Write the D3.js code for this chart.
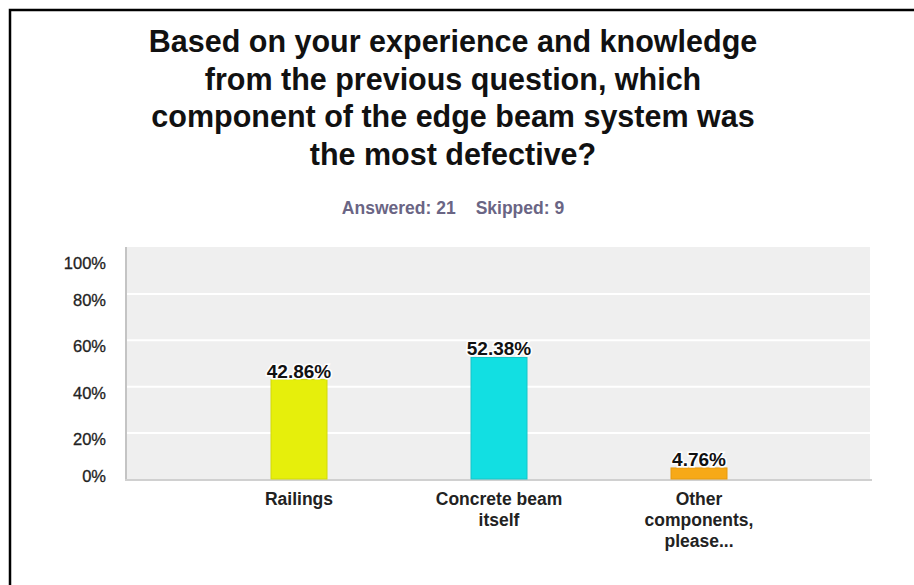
<!DOCTYPE html>
<html>
<head>
<meta charset="utf-8">
<script src="https://cdn.jsdelivr.net/npm/d3@7"></script>
<style>
  html, body { margin: 0; padding: 0; background: #fff; }
  svg { display: block; font-family: Arial, "Liberation Sans", sans-serif; }
</style>
</head>
<body>
<svg id="chart" width="914" height="585"></svg>
<script>
// Survey question results
const titleLines = [
  "Based on your experience and knowledge",
  "from the previous question, which",
  "component of the edge beam system was",
  "the most defective?"
];
const answeredLabel = "Answered: 21";
const skippedLabel = "Skipped: 9";
const categories = ["Railings", "Concrete beam itself", "Other components, please..."];
const categoryLines = [["Railings"], ["Concrete beam", "itself"], ["Other", "components,", "please..."]];
const values = [42.86, 52.38, 4.76];
const barColors = ["#e6ef0b", "#12dfe2", "#f7a917"];
const barStrokes = ["#d2da08", "#17c4c8", "#e59a10"];
const yTicks = [0, 20, 40, 60, 80, 100];

const svg = d3.select("#chart");

// outer frame
svg.append("rect")
  .attr("x", 10).attr("y", 10)
  .attr("width", 1000).attr("height", 1000)
  .attr("fill", "none").attr("stroke", "#000").attr("stroke-width", 2.5);

// title
svg.append("g").selectAll("text")
  .data(titleLines)
  .join("text")
  .attr("x", 453)
  .attr("y", (d, i) => 52 + i * 37.5)
  .attr("text-anchor", "middle")
  .attr("font-size", "30.5px")
  .attr("font-weight", "bold")
  .attr("fill", "#111")
  .text(d => d);

// response counts
const counts = svg.append("text")
  .attr("x", 453).attr("y", 214)
  .attr("text-anchor", "middle")
  .attr("font-size", "17.5px")
  .attr("font-weight", "bold")
  .attr("fill", "#6a6584");
counts.append("tspan").text(answeredLabel);
counts.append("tspan").attr("dx", 20).text(skippedLabel);

// plot area
const plot = { left: 126, right: 870, top: 247, bottom: 479 };

const y = d3.scaleLinear().domain([0, 100]).range([plot.bottom, plot.top]);
const x = d3.scaleBand()
  .domain(categories)
  .range([199, 799])
  .paddingInner(0.72)
  .paddingOuter(0.36);

svg.append("rect")
  .attr("x", plot.left).attr("y", plot.top)
  .attr("width", plot.right - plot.left).attr("height", plot.bottom - plot.top)
  .attr("fill", "#efefef");

// horizontal gridlines
svg.append("g")
  .attr("transform", `translate(${plot.left},0)`)
  .call(d3.axisLeft(y).tickValues(yTicks.filter(v => v > 0 && v < 100))
    .tickSize(-(plot.right - plot.left)).tickFormat(""))
  .call(g => g.select(".domain").remove())
  .call(g => g.selectAll(".tick line").attr("stroke", "#fff").attr("stroke-width", 2));

// left axis line
svg.append("line")
  .attr("x1", plot.left).attr("x2", plot.left)
  .attr("y1", plot.top).attr("y2", plot.bottom)
  .attr("stroke", "#c4c4c4").attr("stroke-width", 2);

// bottom axis line
svg.append("line")
  .attr("x1", plot.left - 1).attr("x2", plot.right + 2)
  .attr("y1", plot.bottom + 1).attr("y2", plot.bottom + 1)
  .attr("stroke", "#d0d0d0").attr("stroke-width", 2);

// y tick labels (kept inside the plot's vertical extent)
const yAxis = svg.append("g")
  .attr("transform", "translate(106,0)")
  .call(d3.axisLeft(y).tickValues(yTicks).tickSize(0).tickPadding(0).tickFormat(d => d + "%"));
yAxis.select(".domain").remove();
yAxis.selectAll(".tick text")
  .attr("x", 0)
  .attr("dy", null)
  .attr("font-size", "16.5px")
  .attr("font-family", "Arial, 'Liberation Sans', sans-serif")
  .attr("fill", "#222")
  .attr("stroke", "#222")
  .attr("stroke-width", 0.3)
  .attr("transform", d => {
    const base = Math.min(Math.max(y(d) + 12, plot.top + 21), plot.bottom + 2);
    return `translate(0,${base - y(d)})`;
  });

// bars
svg.append("g").selectAll("rect")
  .data(values)
  .join("rect")
  .attr("x", (d, i) => x(categories[i]))
  .attr("y", d => y(d))
  .attr("width", x.bandwidth())
  .attr("height", d => y(0) - y(d))
  .attr("fill", (d, i) => barColors[i])
  .attr("stroke", (d, i) => barStrokes[i])
  .attr("stroke-width", 1);

// value labels
svg.append("g").selectAll("text")
  .data(values)
  .join("text")
  .attr("x", (d, i) => x(categories[i]) + x.bandwidth() / 2)
  .attr("y", d => y(d) - 2)
  .attr("text-anchor", "middle")
  .attr("font-size", "19px")
  .attr("font-weight", "bold")
  .attr("fill", "#111")
  .attr("stroke", "#fff")
  .attr("stroke-width", 3)
  .attr("paint-order", "stroke")
  .text(d => d.toFixed(2) + "%");

// category labels
const cat = svg.append("g").selectAll("text")
  .data(categories)
  .join("text")
  .attr("x", d => x(d) + x.bandwidth() / 2)
  .attr("y", 505)
  .attr("text-anchor", "middle")
  .attr("font-size", "17.5px")
  .attr("font-weight", "bold")
  .attr("fill", "#222");
cat.selectAll("tspan")
  .data((d, i) => categoryLines[i])
  .join("tspan")
  .attr("x", function () { return this.parentNode.getAttribute("x"); })
  .attr("dy", (d, i) => i === 0 ? 0 : 21)
  .text(d => d);
</script>
</body>
</html>
